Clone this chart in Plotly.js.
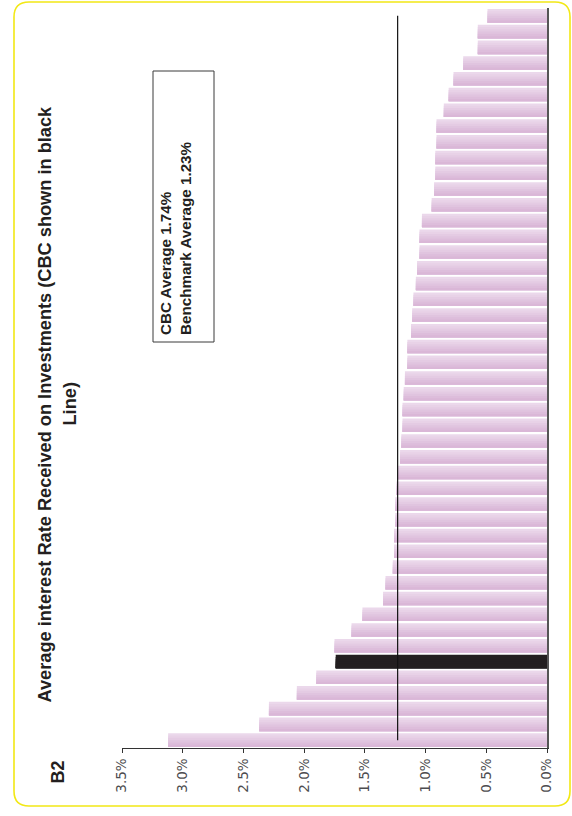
<!DOCTYPE html>
<html>
<head>
<meta charset="utf-8">
<script src="https://cdn.plot.ly/plotly-3.0.1.min.js"></script>
<style>
  html, body { margin: 0; padding: 0; background: #ffffff; }
  #chart { width: 572px; height: 816px; }
</style>
</head>
<body>
<div id="chart"></div>
<script>
// Average interest rate received on investments (%), ranked from lowest to highest.
const rates = [
  0.49, 0.57, 0.57, 0.69, 0.77, 0.81, 0.85, 0.91, 0.91, 0.92,
  0.92, 0.93, 0.95, 1.03, 1.05, 1.05, 1.07, 1.08, 1.10, 1.11,
  1.12, 1.15, 1.15, 1.17, 1.18, 1.19, 1.19, 1.20, 1.21, 1.23,
  1.24, 1.25, 1.25, 1.26, 1.26, 1.27, 1.33, 1.35, 1.52, 1.61,
  1.75, 1.74, 1.90, 2.06, 2.29, 2.37, 3.12
];
// Position of CBC in the ranking (0-based), shown in black.
const cbcIndex = 41;
const cbcAverage = 1.74;
const benchmarkAverage = 1.23;

const tickValues = [3.5, 3.0, 2.5, 2.0, 1.5, 1.0, 0.5, 0.0];
const tickLabels = ['3.5%', '3.0%', '2.5%', '2.0%', '1.5%', '1.0%', '0.5%', '0.0%'];

const titleLine1 = 'Average interest Rate Received on Investments (CBC shown in black';
const titleLine2 = 'Line)';
const sectionLabel = 'B2';

// Plot area in pixels
const W = 572, H = 816;
const M = { l: 122, r: 25, t: 8, b: 68 };
const PW = W - M.l - M.r, PH = H - M.t - M.b;
const px = p => (p - M.l) / PW;
const py = p => (H - M.b - p) / PH;

const positions = rates.map((_, i) => i);

// Each bar is shaded light at the top to deeper pink at the bottom,
// built from overlapping bands that all run to the bar's lower edge.
const barWidth = 0.86;
const bandColors = ['#ebd8eb', '#e8d2e7', '#e4cbe3', '#e0c4df', '#ddbddb', '#dab7d7'];
const BLACK = '#231f20';
const bands = bandColors.map((col, k) => {
  const w = barWidth * (bandColors.length - k) / bandColors.length;
  return {
    type: 'bar',
    orientation: 'h',
    x: rates,
    y: positions,
    width: w,
    offset: barWidth / 2 - w,
    marker: {
      color: rates.map((_, i) => i === cbcIndex ? BLACK : col),
      line: { width: 0 }
    },
    hoverinfo: 'skip',
    showlegend: false
  };
});

const benchmark = {
  type: 'scatter',
  mode: 'lines',
  x: [benchmarkAverage, benchmarkAverage],
  y: [positions[0], positions[positions.length - 1]],
  line: { color: '#111111', width: 1.2 },
  hoverinfo: 'skip',
  showlegend: false
};

// Rounded yellow frame around the whole figure
function roundedRect(x0, y0, x1, y1, r) {
  const P = (a, b) => px(a).toFixed(5) + ',' + py(b).toFixed(5);
  return 'M' + P(x0 + r, y0) +
    ' L' + P(x1 - r, y0) + ' Q' + P(x1, y0) + ' ' + P(x1, y0 + r) +
    ' L' + P(x1, y1 - r) + ' Q' + P(x1, y1) + ' ' + P(x1 - r, y1) +
    ' L' + P(x0 + r, y1) + ' Q' + P(x0, y1) + ' ' + P(x0, y1 - r) +
    ' L' + P(x0, y0 + r) + ' Q' + P(x0, y0) + ' ' + P(x0 + r, y0) + ' Z';
}

const titleFont = { family: 'Liberation Sans, Arial, sans-serif', size: 18.2, color: '#231f20', weight: 'bold' };

const layout = {
  width: W,
  height: H,
  margin: M,
  paper_bgcolor: '#ffffff',
  plot_bgcolor: '#ffffff',
  barmode: 'overlay',
  showlegend: false,
  xaxis: {
    range: [3.5, 0],
    autorange: false,
    tickvals: tickValues,
    ticktext: tickLabels,
    tickangle: -90,
    ticks: 'outside',
    ticklen: 4,
    tickcolor: '#333333',
    showline: true,
    linecolor: '#333333',
    linewidth: 1,
    showgrid: false,
    zeroline: false,
    tickfont: { family: 'DejaVu Sans, Verdana, sans-serif', size: 13.5, color: '#4d4d4f' }
  },
  yaxis: {
    range: [rates.length - 0.5, -0.5],
    autorange: false,
    side: 'right',
    showline: true,
    linecolor: '#555555',
    linewidth: 1.5,
    showticklabels: false,
    ticks: '',
    showgrid: false,
    zeroline: false
  },
  shapes: [
    {
      type: 'path', xref: 'paper', yref: 'paper',
      path: roundedRect(14, 2, 570, 806, 15),
      line: { color: '#f2e816', width: 1.6 },
      layer: 'above'
    },
    {
      type: 'rect', xref: 'paper', yref: 'paper',
      x0: px(153), x1: px(214), y0: py(342), y1: py(71),
      line: { color: '#3a3a3a', width: 1 },
      fillcolor: 'rgba(0,0,0,0)'
    }
  ],
  annotations: [
    {
      xref: 'paper', yref: 'paper', x: px(44.5), y: py(404),
      text: titleLine1, textangle: -90, showarrow: false,
      xanchor: 'center', yanchor: 'middle', font: titleFont
    },
    {
      xref: 'paper', yref: 'paper', x: px(69.5), y: py(404),
      text: titleLine2, textangle: -90, showarrow: false,
      xanchor: 'center', yanchor: 'middle', font: titleFont
    },
    {
      xref: 'paper', yref: 'paper', x: px(57), y: py(772.5),
      text: sectionLabel, textangle: -90, showarrow: false,
      xanchor: 'center', yanchor: 'middle',
      font: { family: 'Liberation Sans, Arial, sans-serif', size: 18, color: '#231f20', weight: 'bold' }
    },
    {
      xref: 'paper', yref: 'paper', x: px(175), y: py(238),
      text: 'CBC Average ' + cbcAverage.toFixed(2) + '%<br>Benchmark Average ' + benchmarkAverage.toFixed(2) + '%',
      textangle: -90, showarrow: false, align: 'left',
      xanchor: 'center', yanchor: 'middle',
      font: { family: 'Liberation Sans, Arial, sans-serif', size: 15.2, color: '#231f20', weight: 'bold' }
    }
  ]
};

Plotly.newPlot('chart', bands.concat([benchmark]), layout, { displayModeBar: false, staticPlot: true });
</script>
</body>
</html>
